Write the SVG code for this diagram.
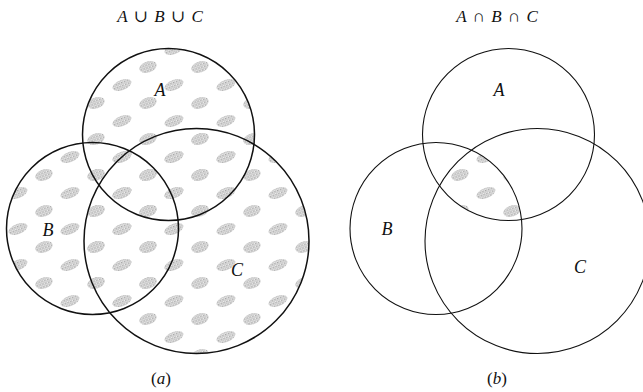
<svg xmlns="http://www.w3.org/2000/svg" width="643" height="392" viewBox="0 0 643 392">
<style>
.ring{fill:none;stroke:#111;}
.l{stroke-width:1.5;}
.r{stroke-width:1.1;}
.lab{font-family:"Liberation Serif","DejaVu Serif",serif;font-style:italic;font-size:18px;fill:#111;text-anchor:middle;}
.ttl{font-family:"Liberation Serif","DejaVu Serif",serif;font-size:17px;fill:#111;text-anchor:middle;word-spacing:2px;}
.it{font-style:italic;}
</style>
<defs>
<pattern id="dots" width="3" height="3" patternUnits="userSpaceOnUse">
<rect width="3" height="3" fill="#ececec"/>
<rect width="1.5" height="1.5" fill="#a6a6a6"/>
<rect x="1.5" y="1.5" width="1.3" height="1.3" fill="#b4b4b4"/>
</pattern>
<pattern id="blobs" width="52" height="36" patternUnits="userSpaceOnUse" patternTransform="translate(6,4)">
<ellipse cx="12" cy="9" rx="10" ry="5" transform="rotate(-22 12 9)" fill="url(#dots)"/>
<ellipse cx="38" cy="27" rx="9" ry="5.5" transform="rotate(-18 38 27)" fill="url(#dots)"/>
</pattern>
<clipPath id="cA2"><circle cx="508.5" cy="134.5" r="86"/></clipPath>
<clipPath id="cB2"><circle cx="436" cy="228.5" r="86"/></clipPath>
<clipPath id="cC2"><circle cx="537.5" cy="241" r="112.5"/></clipPath>
</defs>

<g id="title-a"><text class="ttl" x="160" y="22"><tspan class="it">A</tspan> ∪ <tspan class="it">B</tspan> ∪ <tspan class="it">C</tspan></text></g>
<g id="title-b"><text class="ttl" x="497" y="22"><tspan class="it">A</tspan> ∩ <tspan class="it">B</tspan> ∩ <tspan class="it">C</tspan></text></g>

<g id="shading-a">
<circle cx="168.5" cy="134.5" r="86" fill="url(#blobs)"/>
<circle cx="92.5" cy="228.5" r="86" fill="url(#blobs)"/>
<circle cx="196.5" cy="241" r="112.5" fill="url(#blobs)"/>
</g>
<g id="shading-b" clip-path="url(#cA2)">
<g clip-path="url(#cB2)">
<g clip-path="url(#cC2)">
<rect x="340" y="40" width="303" height="320" fill="url(#blobs)"/>
</g>
</g>
</g>

<g id="circle-A-a"><circle class="ring l" cx="168.5" cy="134.5" r="86"/><text class="lab" x="160" y="96">A</text></g>
<g id="circle-B-a"><circle class="ring l" cx="92.5" cy="228.5" r="86"/><text class="lab" x="48" y="236">B</text></g>
<g id="circle-C-a"><circle class="ring l" cx="196.5" cy="241" r="112.5"/><text class="lab" x="237" y="276">C</text></g>

<g id="circle-A-b"><circle class="ring r" cx="508.5" cy="134.5" r="86"/><text class="lab" x="499" y="96">A</text></g>
<g id="circle-B-b"><circle class="ring r" cx="436" cy="228.5" r="86"/><text class="lab" x="387" y="235">B</text></g>
<g id="circle-C-b"><circle class="ring r" cx="537.5" cy="241" r="112.5"/><text class="lab" x="580" y="273">C</text></g>

<g id="caption-a"><text class="ttl" x="161" y="384">(<tspan class="it">a</tspan>)</text></g>
<g id="caption-b"><text class="ttl" x="497" y="384">(<tspan class="it">b</tspan>)</text></g>
</svg>
